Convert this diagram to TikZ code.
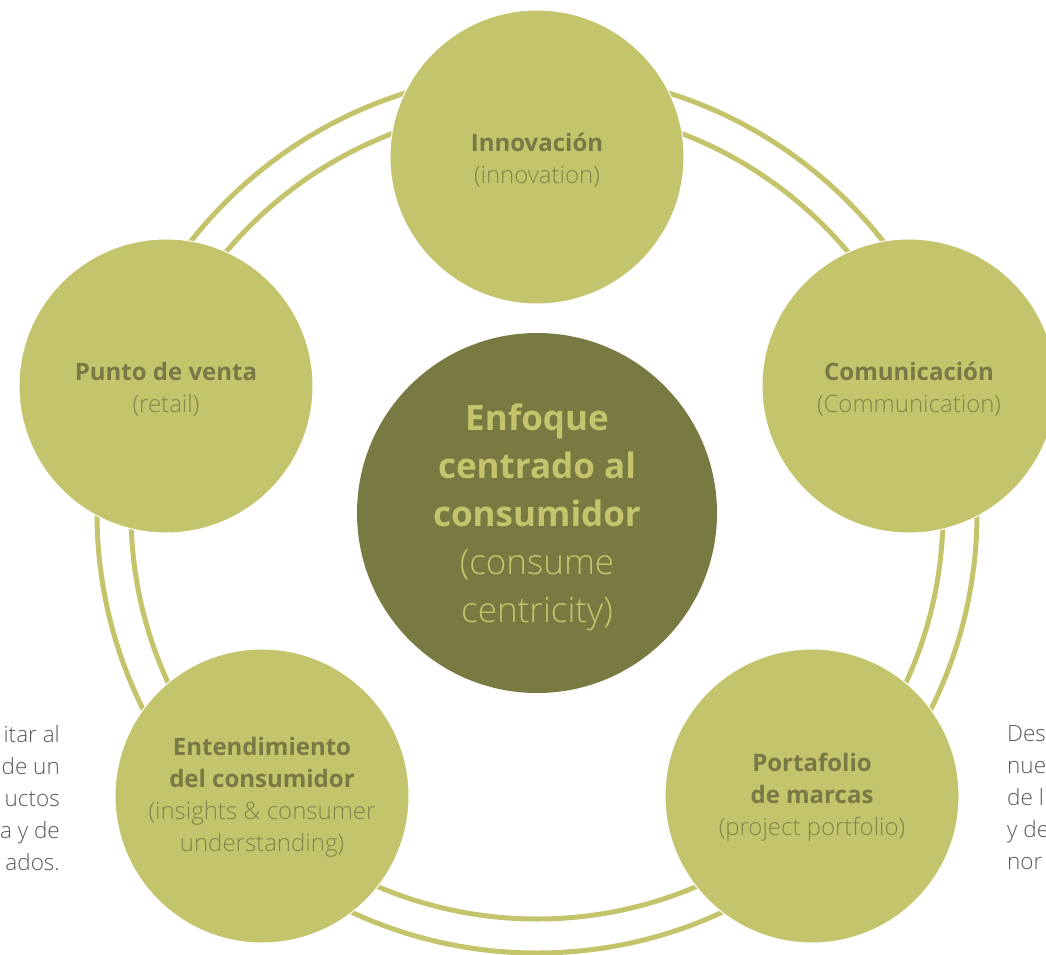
\documentclass[tikz,border=0pt]{standalone}
\usepackage{fontspec}
\setmainfont{Open Sans}
\newfontfamily\lightfont{Open Sans Light}
\definecolor{olivelight}{HTML}{C4C46C}
\definecolor{olivedark}{HTML}{787A42}
\definecolor{txtbold}{HTML}{787944}
\definecolor{txtlight}{HTML}{84854B}
\definecolor{sidegray}{HTML}{595959}
\tikzset{
  ring/.style={draw=olivelight, line width=5pt},
  petal/.style={circle, fill=olivelight, draw=white, line width=1pt, minimum size=294pt, inner sep=0pt},
  hub/.style={circle, fill=olivedark, minimum size=360pt, inner sep=0pt},
  petaltext/.style={inner sep=0pt, align=center, yshift=-3pt, font=\fontsize{24}{32}\selectfont},
  hubtext/.style={inner sep=0pt, align=center, yshift=-4pt, text=olivelight, font=\fontsize{35}{48}\selectfont},
  sidetext/.style={inner sep=0pt, text=sidegray, font=\lightfont\fontsize{22.5}{32}\selectfont},
}
\newcommand{\bt}[1]{{\bfseries\color{txtbold}#1}}
\newcommand{\lt}[1]{{\lightfont\color{txtlight}#1}}
\begin{document}
\begin{tikzpicture}[x=1pt,y=-1pt]
\useasboundingbox (0,0) rectangle (1046,955);
\clip (0,0) rectangle (1046,955);
\coordinate (o) at (537,513);
\draw[ring] (o) circle[radius=440];
\draw[ring] (o) circle[radius=406];
\node[hub] (center) at (o) {};
\node[hubtext] (centert) at (center.center) {{\bfseries Enfoque}\\{\bfseries centrado al}\\{\bfseries consumidor}\\{\lightfont (consume}\\{\lightfont centricity)}};
\node[petal] (inno) at (537,157) {};
\node[petal] (retail) at (166,386) {};
\node[petal] (comm) at (909,386) {};
\node[petal] (insight) at (262,796) {};
\node[petal] (portfolio) at (812,796) {};
\node[petaltext] (innot) at (inno.center) {\bt{Innovación}\\\lt{(innovation)}};
\node[petaltext] (retailt) at (retail.center) {\bt{Punto de venta}\\\lt{(retail)}};
\node[petaltext] (commt) at (comm.center) {\bt{Comunicación}\\\lt{(Communication)}};
\node[petaltext, yshift=2pt] (insightt) at (insight.center) {\bt{Entendimiento}\\\bt{del consumidor}\\\lt{(insights \& consumer}\\\lt{understanding)}};
\node[petaltext, yshift=2pt] (portfoliot) at (portfolio.center) {\bt{Portafolio}\\\bt{de marcas}\\\lt{(project portfolio)}};
\node[sidetext, anchor=east, align=right] (lefttext) at (60,798) {itar al\\de un\\uctos\\a y de\\ados.};
\node[sidetext, anchor=west, align=left] (righttext) at (1007,798) {Des\\nue\\de l\\y de\\nor};
\end{tikzpicture}
\end{document}
